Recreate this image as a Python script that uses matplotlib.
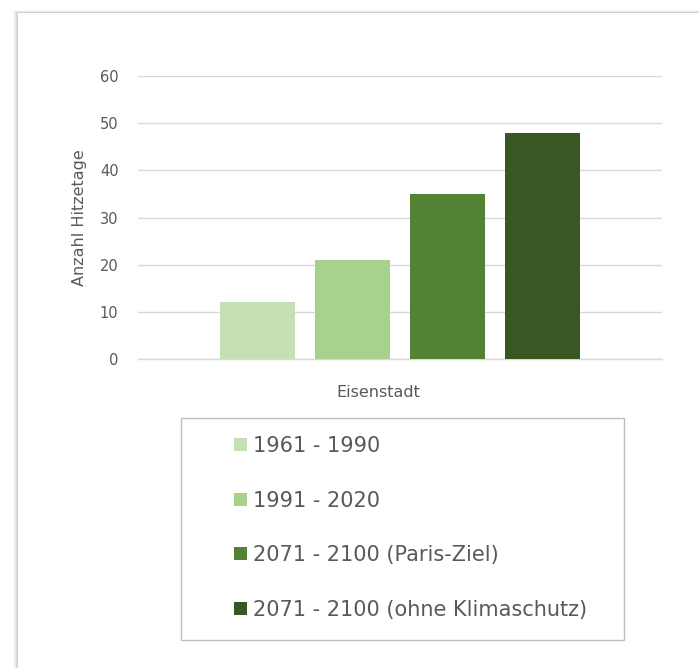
import matplotlib.pyplot as plt
from matplotlib.patches import Rectangle

# Hitzetage Eisenstadt
station = "Eisenstadt"
periods = ["1961 - 1990", "1991 - 2020", "2071 - 2100 (Paris-Ziel)", "2071 - 2100 (ohne Klimaschutz)"]
hot_days = [12, 21, 35, 48]
colors = ["#C5E0B4", "#A9D18E", "#548235", "#385723"]
yticks = [0, 10, 20, 30, 40, 50, 60]

plt.rcParams['font.family'] = ['DejaVu Sans']
W, H = 699, 668
fig = plt.figure(figsize=(W / 100, H / 100), dpi=100)
fig.patch.set_facecolor("white")

# card with a soft shadow on the left/top
for i, a in enumerate([0.02, 0.03, 0.04, 0.05, 0.06]):
    off = 5 - i
    fig.patches.append(Rectangle(((18 - off) / W, 0), (W - 18 + off) / W, (H - 13 + off * 0.6) / H,
                                 transform=fig.transFigure, facecolor="#000000", alpha=a,
                                 edgecolor="none", zorder=-2))
fig.patches.append(Rectangle((18 / W, 0), (W - 18) / W, (H - 13) / H, transform=fig.transFigure,
                             facecolor="white", edgecolor="none", zorder=-1))

ax = fig.add_axes([138 / W, (H - 359) / H, 524 / W, 283 / H])
ax.set_facecolor("none")
ax.set_zorder(2)

# bars 75px wide, 20px gaps inside a 524px axis
bw = 75 / 524
step = 95 / 524
xs = [0.5 + (i - 1.5) * step for i in range(len(hot_days))]
bars = []
for x, v, c, lab in zip(xs, hot_days, colors, periods):
    bars.append(ax.bar(x, v, width=bw, color=c, label=lab, zorder=3))

ax.set_xlim(0, 1)
ax.set_ylim(0, 60)
ax.set_yticks(yticks)
ax.yaxis.grid(True, color="#D9D9D9", linewidth=1)
ax.axhline(0, color="#D9D9D9", linewidth=1, clip_on=False, zorder=1)
ax.set_axisbelow(True)
for s in ax.spines.values():
    s.set_visible(False)
ax.tick_params(axis="y", length=0, pad=14, labelsize=10.5, labelcolor="#595959")
ax.set_xticks([])
ax.set_ylabel("Anzahl Hitzetage", fontsize=11.5, color="#595959", labelpad=9)

fig.text(378 / W, 1 - 393 / H, station, ha="center", va="center", fontsize=11.5, color="#595959")

# legend box
fig.patches.append(Rectangle((181 / W, 1 - 640 / H), 443 / W, 222 / H, transform=fig.transFigure,
                             facecolor="none", edgecolor="#BFBFBF", linewidth=1, zorder=5))
leg = fig.legend(handles=bars, labels=periods, loc="upper left",
                 bbox_to_anchor=(234 / W, 1 - 436 / H), frameon=False, fontsize=15,
                 handlelength=0.6, handleheight=0.6, handletextpad=0.3,
                 labelspacing=1.66, borderaxespad=0, borderpad=0)
for t in leg.get_texts():
    t.set_color("#595959")

fig.savefig("out.png", dpi=100)
